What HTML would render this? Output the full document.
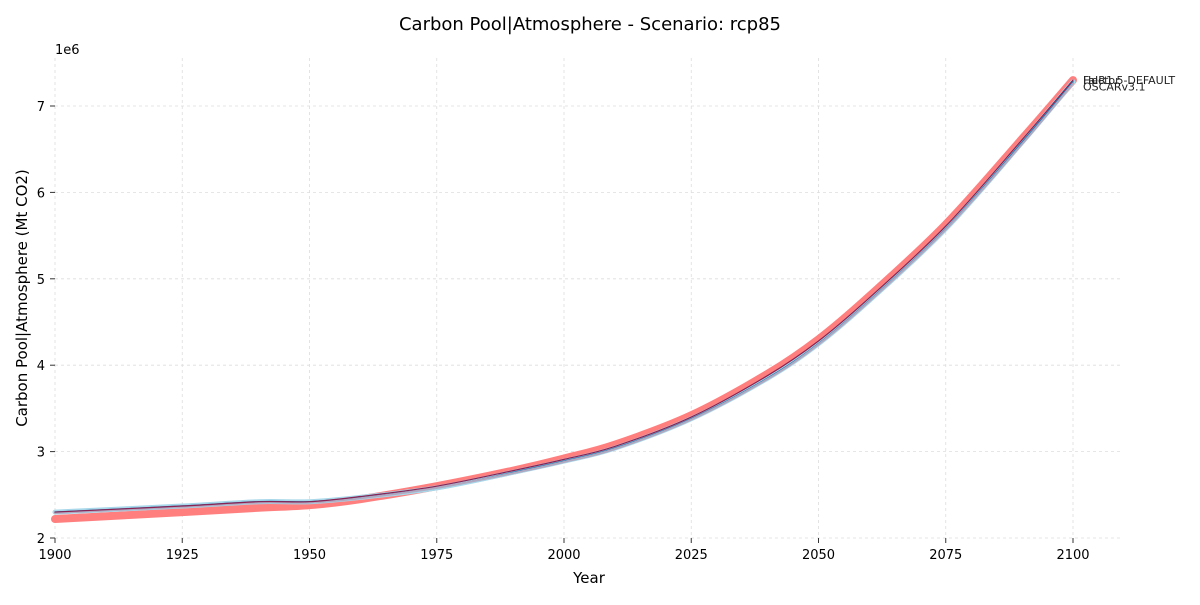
<!DOCTYPE html>
<html><head><meta charset="utf-8"><style>
body{margin:0;background:#fff;font-family:"Liberation Sans","DejaVu Sans",sans-serif;}
svg text{font-family:"DejaVu Sans","Liberation Sans",sans-serif;}
</style></head><body>
<svg id="chart" width="1200" height="600">
<text x="590" y="30" font-size="18" text-anchor="middle">Carbon Pool|Atmosphere - Scenario: rcp85</text>
<g id="grid"></g>
<g id="axes"></g>
<g id="series"></g>
<text x="589" y="583" font-size="15" text-anchor="middle">Year</text>
<text transform="translate(27,298) rotate(-90)" font-size="15" text-anchor="middle">Carbon Pool|Atmosphere (Mt CO2)</text>
<text x="55" y="54" font-size="13">1e6</text>
</svg>
<script>
const years = [1900,1925,1940,1950,1960,1975,1990,2000,2010,2025,2040,2050,2060,2075,2090,2100];
const fairVals = [2.22,2.30,2.35,2.38,2.45,2.60,2.78,2.92,3.08,3.42,3.90,4.30,4.80,5.63,6.62,7.30];
const magiccVals = [2.30,2.37,2.42,2.42,2.47,2.58,2.76,2.89,3.04,3.38,3.85,4.25,4.75,5.58,6.58,7.28];
const hectorVals = [2.30,2.37,2.42,2.42,2.48,2.60,2.78,2.91,3.06,3.40,3.88,4.28,4.78,5.61,6.61,7.30];
const oscarVals = [2.29,2.36,2.41,2.41,2.46,2.58,2.75,2.88,3.03,3.37,3.84,4.24,4.74,5.57,6.56,7.26];
const xTicks = [1900,1925,1950,1975,2000,2025,2050,2075,2100];
const yTicks = [2,3,4,5,6,7];
const NS="http://www.w3.org/2000/svg";
const X=y=>55+(y-1900)*(1073-55)/200;
const Y=v=>538-(v-2)*(538-106)/5;
function mk(t,a,p){const e=document.createElementNS(NS,t);for(const k in a)e.setAttribute(k,a[k]);p.appendChild(e);return e;}
const grid=document.getElementById('grid'),axes=document.getElementById('axes'),ser=document.getElementById('series');
xTicks.forEach(t=>{
 const l=mk('line',{x1:X(t),x2:X(t),y1:58,y2:538,stroke:'#ddd','stroke-dasharray':'3,3','stroke-width':0.8},grid);
 
 const k=mk('line',{x1:X(t),x2:X(t),y1:538,y2:543,stroke:'#333'},axes);
 
 const s=mk('text',{x:X(t),y:559,'font-size':13,'text-anchor':'middle'},axes);s.textContent=t;
 
});
yTicks.forEach(t=>{
 const l=mk('line',{x1:55,x2:1123,y1:Y(t),y2:Y(t),stroke:'#ddd','stroke-dasharray':'3,3','stroke-width':0.8},grid);
 
 const k=mk('line',{x1:50,x2:55,y1:Y(t),y2:Y(t),stroke:'#333'},axes);
 
 const s=mk('text',{x:45,y:Y(t)+5,'font-size':13,'text-anchor':'end'},axes);s.textContent=t;
 
});
function path(vals){
 const pts=years.map((y,i)=>[X(y),Y(vals[i])]);
 let d='M'+pts[0][0]+','+pts[0][1];
 for(let i=0;i<pts.length-1;i++){
  const p0=pts[Math.max(0,i-1)],p1=pts[i],p2=pts[i+1],p3=pts[Math.min(pts.length-1,i+2)];
  d+=' C'+(p1[0]+(p2[0]-p0[0])/6)+','+(p1[1]+(p2[1]-p0[1])/6)+' '+(p2[0]-(p3[0]-p1[0])/6)+','+(p2[1]-(p3[1]-p1[1])/6)+' '+p2[0]+','+p2[1];
 }
 return d;
}
const specs=[
 [fairVals,'#ff7f7f',8,'fair-line'],
 [magiccVals,'#a8d8ea',5,'magicc-line'],
 [magiccVals,'#1f77b4',1.5,'magicc-core-line'],
 [oscarVals,'#b0a8c0',2,'oscar-line'],
 [hectorVals,'#8b2252',1.2,'hector-line']];
specs.forEach(s=>{
 const p=mk('path',{d:path(s[0]),fill:'none',stroke:s[1],'stroke-width':s[2],'stroke-linecap':'round'},ser);
 
});
const labels=[['FaIR1.5-DEFAULT',fairVals],['Hector',hectorVals],['OSCARv3.1',oscarVals]];
labels.forEach((lb,i)=>{
 const t=mk('text',{x:1083,y:Y(lb[1][lb[1].length-1])+4+(i==2?3:0),'font-size':11,fill:'#222'},ser);t.textContent=lb[0];
 
});
</script>
</body></html>
